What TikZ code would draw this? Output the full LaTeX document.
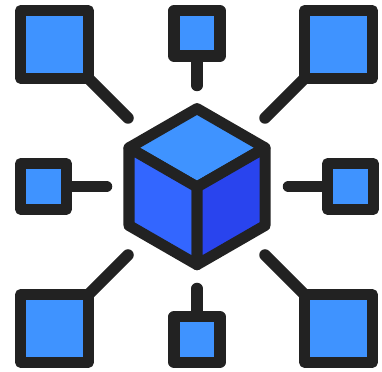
\documentclass[tikz,border=0pt]{standalone}
\definecolor{outline}{RGB}{34,34,34}
\definecolor{facetop}{RGB}{63,147,255}
\definecolor{faceleft}{RGB}{51,102,255}
\definecolor{faceright}{RGB}{41,68,238}

\begin{document}
\begin{tikzpicture}[x=0.025cm, y=-0.025cm]
    \tikzstyle{every node} = [draw=outline, fill=facetop, line width=0.2875cm, line join=round, inner sep=0]
    \tikzstyle{bigbox} = [minimum size=1.6875cm, outer sep=0]
    \tikzstyle{smallbox} = [minimum size=1.1375cm, outer sep=0.14cm]
    \tikzstyle{wire} = [draw=outline, line width=0.2875cm, line cap=round]
    \tikzstyle{face} = [draw=outline, line width=0.275cm, line join=round]
    \useasboundingbox (0, 0) rectangle (382, 372);

    \node[bigbox] (boxnw) at (54.5, 44.5) {};
    \node[bigbox] (boxne) at (338.5, 44.5) {};
    \node[bigbox] (boxsw) at (54.5, 328.5) {};
    \node[bigbox] (boxse) at (338.5, 328.5) {};
    \node[smallbox] (boxn) at (197, 33.5) {};
    \node[smallbox] (boxs) at (197, 339.5) {};
    \node[smallbox] (boxw) at (43.5, 186.5) {};
    \node[smallbox] (boxe) at (350.5, 186.5) {};

    \coordinate (endnw) at (128, 118);
    \coordinate (endne) at (265, 118);
    \coordinate (endsw) at (128, 255);
    \coordinate (endse) at (265, 255);
    \coordinate (endn) at (197, 85.5);
    \coordinate (ends) at (197, 288.5);
    \coordinate (endw) at (106.5, 186.5);
    \coordinate (ende) at (288.5, 186.5);

    \draw[wire] (boxnw.south east) -- (endnw);
    \draw[wire] (boxne.south west) -- (endne);
    \draw[wire] (boxsw.north east) -- (endsw);
    \draw[wire] (boxse.north west) -- (endse);
    \draw[wire] (boxn.south) -- (endn);
    \draw[wire] (boxs.north) -- (ends);
    \draw[wire] (boxw.east) -- (endw);
    \draw[wire] (boxe.west) -- (ende);

    \coordinate (top) at (197, 108.6);
    \coordinate (upperright) at (265, 147.8);
    \coordinate (lowerright) at (265, 225.5);
    \coordinate (bottom) at (197, 264.7);
    \coordinate (lowerleft) at (129, 225.5);
    \coordinate (upperleft) at (129, 147.8);
    \coordinate (middle) at (197, 187);

    \draw[face, fill=facetop] (top) -- (upperright) -- (middle) -- (upperleft) -- cycle;
    \draw[face, fill=faceleft] (upperleft) -- (middle) -- (bottom) -- (lowerleft) -- cycle;
    \draw[face, fill=faceright] (upperright) -- (lowerright) -- (bottom) -- (middle) -- cycle;
\end{tikzpicture}
\end{document}
